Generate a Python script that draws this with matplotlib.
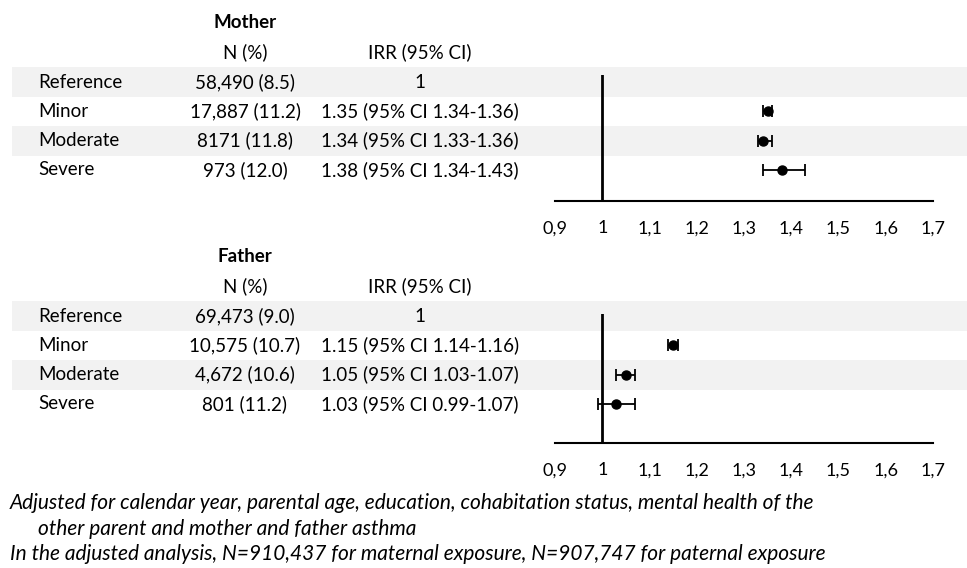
import matplotlib
matplotlib.use("Agg")
import matplotlib.pyplot as plt
from matplotlib.patches import Rectangle
from matplotlib.ticker import FuncFormatter

plt.rcParams['font.family'] = ['Lato', 'DejaVu Sans']

# table rows
categories = ['Reference', 'Minor', 'Moderate', 'Severe']

mother_n = ['58,490 (8.5)', '17,887 (11.2)', '8171 (11.8)', '973 (12.0)']
mother_irr_text = ['1', '1.35 (95% CI 1.34-1.36)', '1.34 (95% CI 1.33-1.36)', '1.38 (95% CI 1.34-1.43)']
mother_est = [1.35, 1.34, 1.38]
mother_lo = [1.34, 1.33, 1.34]
mother_hi = [1.36, 1.36, 1.43]

father_n = ['69,473 (9.0)', '10,575 (10.7)', '4,672 (10.6)', '801 (11.2)']
father_irr_text = ['1', '1.15 (95% CI 1.14-1.16)', '1.05 (95% CI 1.03-1.07)', '1.03 (95% CI 0.99-1.07)']
father_est = [1.15, 1.05, 1.03]
father_lo = [1.14, 1.03, 0.99]
father_hi = [1.16, 1.07, 1.07]

xticks = [0.9, 1.0, 1.1, 1.2, 1.3, 1.4, 1.5, 1.6, 1.7]

footnotes = [
    'Adjusted for calendar year, parental age, education, cohabitation status, mental health of the',
    'other parent and mother and father asthma',
    'In the adjusted analysis, N=910,437 for maternal exposure, N=907,747 for paternal exposure',
]

W, H = 967, 568
FS = 13.5
SHADE = '#f2f2f2'

fig = plt.figure(figsize=(W / 100, H / 100), dpi=100)

# background axes in pixel units for the table part
bg = fig.add_axes([0, 0, 1, 1])
bg.set_xlim(0, W)
bg.set_ylim(H, 0)
bg.axis('off')


def draw_table(title, n_vals, irr_vals, top):
    # top = y pixel of the title line
    bg.text(245, top, title, ha='center', va='center', fontsize=FS, fontweight='bold')
    bg.text(245, top + 29, 'N (%)', ha='center', va='center', fontsize=FS)
    bg.text(420, top + 29, 'IRR (95% CI)', ha='center', va='center', fontsize=FS)
    for i, cat in enumerate(categories):
        y = top + 59 + i * 29.3
        if i % 2 == 0:
            bg.add_patch(Rectangle((12, y - 15), W - 12, 30, color=SHADE, zorder=0, lw=0))
        bg.text(38, y, cat, ha='left', va='center', fontsize=FS)
        bg.text(245, y, n_vals[i], ha='center', va='center', fontsize=FS)
        bg.text(420, y, irr_vals[i], ha='center', va='center', fontsize=FS)


draw_table('Mother', mother_n, mother_irr_text, 23)
draw_table('Father', father_n, father_irr_text, 257)


def draw_forest(rect, ylim, est, lo, hi):
    ax = fig.add_axes(rect)
    ax.patch.set_alpha(0)
    ax.set_xlim(0.9, 1.7)
    ax.set_ylim(*ylim)
    rows = [1, 2, 3]
    xerr = [[e - l for e, l in zip(est, lo)], [h - e for e, h in zip(est, hi)]]
    ax.errorbar(est, rows, xerr=xerr, fmt='o', color='black', ms=6.5,
                elinewidth=1.3, capsize=4, capthick=1.3)
    ax.axvline(1, color='black', lw=2)
    for s in ['top', 'right', 'left']:
        ax.spines[s].set_visible(False)
    ax.spines['bottom'].set_linewidth(1.5)
    ax.set_yticks([])
    ax.set_xticks(xticks)
    ax.xaxis.set_major_formatter(FuncFormatter(
        lambda v, p: '1' if abs(v - 1) < 1e-9 else ('%.1f' % v).replace('.', ',')))
    ax.tick_params(axis='x', length=0, pad=14, labelsize=13)
    return ax


draw_forest([555 / W, 1 - 201 / H, 378 / W, 126 / H], (4.06, -0.24),
            mother_est, mother_lo, mother_hi)
draw_forest([555 / W, 1 - 443 / H, 378 / W, 129 / H], (4.33, -0.07),
            father_est, father_lo, father_hi)

# footnotes
FN = 15
bg.text(10, 503, footnotes[0], ha='left', va='center', fontsize=FN, style='italic')
bg.text(38, 529, footnotes[1], ha='left', va='center', fontsize=FN, style='italic')
bg.text(10, 554, footnotes[2], ha='left', va='center', fontsize=FN, style='italic')

fig.savefig('out.png', dpi=100)
